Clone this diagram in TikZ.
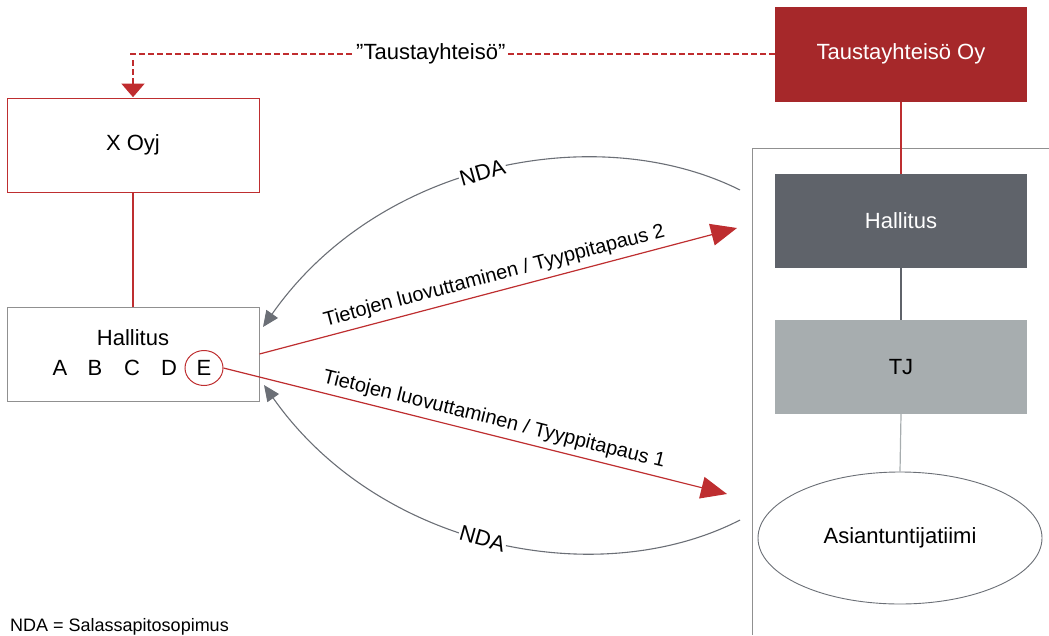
\documentclass[tikz,border=0pt]{standalone}
\usepackage{fontspec}
\setmainfont{Liberation Sans}
\usetikzlibrary{arrows.meta,shapes.geometric,decorations.markings}
\definecolor{boxred}{HTML}{A6282A}
\definecolor{linered}{HTML}{BE2E30}
\definecolor{dashred}{HTML}{C02C2E}
\definecolor{darkgr}{HTML}{5F636A}
\definecolor{lightgr}{HTML}{A7ADAF}
\definecolor{arcgr}{HTML}{6B6F76}
\definecolor{framegr}{HTML}{909090}
\tikzset{
  lbl/.style={font=\fontsize{20}{23}\selectfont},
  bigtxt/.style={font=\fontsize{22}{25}\selectfont},
  orgbox/.style={minimum width=252pt, minimum height=94pt, inner sep=0pt, bigtxt},
  redarrow/.style={linered, line width=1.2pt, -{Triangle[length=26pt,width=22pt]}},
  ndaarc/.style={arcgr, line width=1.1pt, -{Triangle[length=16pt,width=14pt]}},
  dashmarks/.style={decoration={markings, mark=between positions 0 and 0.985 step 9pt with {\fill[dashred] (0,-1pt) rectangle (6pt,1pt);}}, postaction={decorate}},
}
\begin{document}
\begin{tikzpicture}[x=1pt,y=-1pt]
\useasboundingbox (0,0) rectangle (1049,635);
% right side
\draw[framegr, line width=1pt] (1049,148) -- (752,148) -- (752,635);
\node[orgbox, fill=boxred, text=white, minimum height=95pt] (taust) at (901,54) {Taustayhteisö Oy};
\node[orgbox, fill=darkgr, text=white] (rhall) at (901,221) {Hallitus};
\node[orgbox, fill=lightgr, text=black] (tj) at (901,367) {TJ};
\node[ellipse, draw=arcgr, line width=0.9pt, minimum width=284pt, minimum height=132pt, inner sep=0pt, bigtxt, fill=white] (team) at (900,538) {Asiantuntijatiimi};
\draw[linered, line width=1.2pt] (taust.south) -- (rhall.north);
\draw[darkgr, line width=1.2pt] (rhall.south) -- (tj.north);
\draw[lightgr, line width=1.2pt] (tj.south) -- (team.north);
% left side
\node[orgbox, draw=linered, line width=1pt] (xoyj) at (133,145) {X Oyj};
\node[orgbox, draw=framegr, line width=1pt] (lhall) at (133,354) {};
\node[bigtxt] (lhalltxt) at (133,338) {Hallitus};
\node[bigtxt] (la) at (60,368) {A};
\node[bigtxt] (lb) at (95,368) {B};
\node[bigtxt] (lc) at (132,368) {C};
\node[bigtxt] (ld) at (169,368) {D};
\node[bigtxt, ellipse, draw=linered, line width=1pt, minimum width=38pt, minimum height=35pt, inner sep=0pt] (le) at (204,368) {E};
\draw[linered, line width=1.2pt] (xoyj.south) -- (lhall.north);
% dashed link
\path[dashmarks] (taust.west) -| (xoyj.north);
\draw[dashred, draw opacity=0, -{Triangle[length=14pt,width=24pt,fill=dashred,color=dashred]}]
  (taust.west) -| node[pos=0.268, fill=white, text=black, inner sep=2pt, bigtxt, text opacity=1, fill opacity=1] {”Taustayhteisö”} (xoyj.north);
% coordinates
\coordinate (t2) at (737,228);
\coordinate (t1) at (727,494);
\coordinate (n2s) at (740,190);
\coordinate (n2e) at (263,327);
\coordinate (n1s) at (740,520);
\coordinate (n1e) at (264,385);
% red arrows
\draw[redarrow] (lhall.east) -- node[pos=0.5, above=2pt, sloped, lbl, text=black] {Tietojen luovuttaminen / Tyyppitapaus 2} (t2);
\draw[redarrow] (le.east) -- node[pos=0.53, above=2pt, sloped, lbl, text=black] {Tietojen luovuttaminen / Tyyppitapaus 1} (t1);
% NDA arcs
\draw[ndaarc] (n2s) .. controls (600,120) and (380,160) .. node[pos=0.52, sloped, fill=white, inner sep=1pt, bigtxt, text=black] {NDA} (n2e);
\draw[ndaarc] (n1s) .. controls (600,592) and (380,550) .. node[pos=0.52, sloped, fill=white, inner sep=1pt, bigtxt, text=black] {NDA} (n1e);
% footnote
\node[anchor=base west, inner sep=0pt, font=\fontsize{18}{21}\selectfont] (foot) at (10,631) {NDA = Salassapitosopimus};
\end{tikzpicture}
\end{document}
